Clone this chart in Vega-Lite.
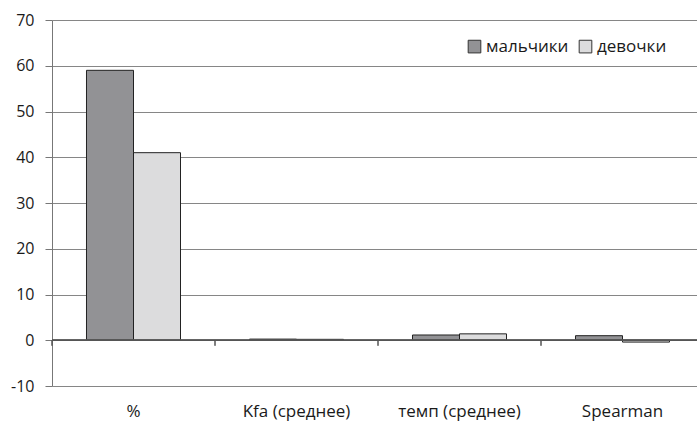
{
  "$schema": "https://vega.github.io/schema/vega-lite/v6.json",
  "autosize": "none",
  "padding": {"left": 52, "top": 20, "right": 0, "bottom": 36},
  "width": 652,
  "height": 366,
  "background": "white",
  "config": {
    "view": {"stroke": null},
    "font": "Open Sans"
  },
  "data": {
    "values": [
      {"cat": "%", "group": "мальчики", "value": 59},
      {"cat": "%", "group": "девочки", "value": 41},
      {"cat": "Kfa (среднее)", "group": "мальчики", "value": 0.25},
      {"cat": "Kfa (среднее)", "group": "девочки", "value": 0.2},
      {"cat": "темп (среднее)", "group": "мальчики", "value": 1.15},
      {"cat": "темп (среднее)", "group": "девочки", "value": 1.4},
      {"cat": "Spearman", "group": "мальчики", "value": 1.0},
      {"cat": "Spearman", "group": "девочки", "value": -0.4}
    ]
  },
  "layer": [
    {
      "mark": {"type": "bar", "stroke": "#222222", "strokeWidth": 1},
      "encoding": {
        "x": {
          "field": "cat", "type": "nominal",
          "sort": ["%", "Kfa (среднее)", "темп (среднее)", "Spearman"],
          "scale": {"paddingInner": 0, "paddingOuter": 0},
          "axis": {"title": null, "domain": false, "ticks": false, "labelAngle": 0, "labelPadding": 17, "labelFontSize": 17, "labelColor": "#1a1a1a", "labelFont": "Open Sans"}
        },
        "xOffset": {"field": "group", "type": "nominal", "sort": ["мальчики", "девочки"], "scale": {"paddingInner": 0, "paddingOuter": 0.734}},
        "y": {
          "field": "value", "type": "quantitative",
          "scale": {"domain": [-10, 70], "nice": false, "zero": false},
          "axis": {"title": null, "values": [-10, 0, 10, 20, 30, 40, 50, 60, 70], "labelExpr": "replace(datum.label, '−', '-')", "grid": true, "gridColor": "#868686", "gridWidth": 1, "domainColor": "#777777", "tickColor": "#777777", "tickSize": 7, "labelFontSize": 16, "labelColor": "#1a1a1a", "labelPadding": 11, "labelFont": "Open Sans"}
        },
        "color": {
          "field": "group", "type": "nominal",
          "scale": {"domain": ["мальчики", "девочки"], "range": ["#929295", "#dcdcdd"]},
          "legend": {"title": null, "orient": "none", "legendX": 414, "legendY": 18, "direction": "horizontal", "symbolType": "square", "symbolSize": 160, "symbolStrokeColor": "#333333", "symbolStrokeWidth": 1, "labelFontSize": 17, "labelColor": "#1a1a1a", "labelFont": "Open Sans", "columnPadding": 8, "symbolOffset": 0, "labelOffset": 3}
        }
      }
    },
    {
      "mark": {"type": "rule", "color": "#555555", "strokeWidth": 1},
      "encoding": {"y": {"datum": 0}}
    },
    {
      "mark": {"type": "rule", "color": "#555555", "strokeWidth": 1},
      "encoding": {
        "x": {"field": "cat", "type": "nominal", "bandPosition": 0, "sort": ["%", "Kfa (среднее)", "темп (среднее)", "Spearman"]},
        "y": {"datum": 0},
        "y2": {"datum": -1.2}
      }
    }
  ]
}
